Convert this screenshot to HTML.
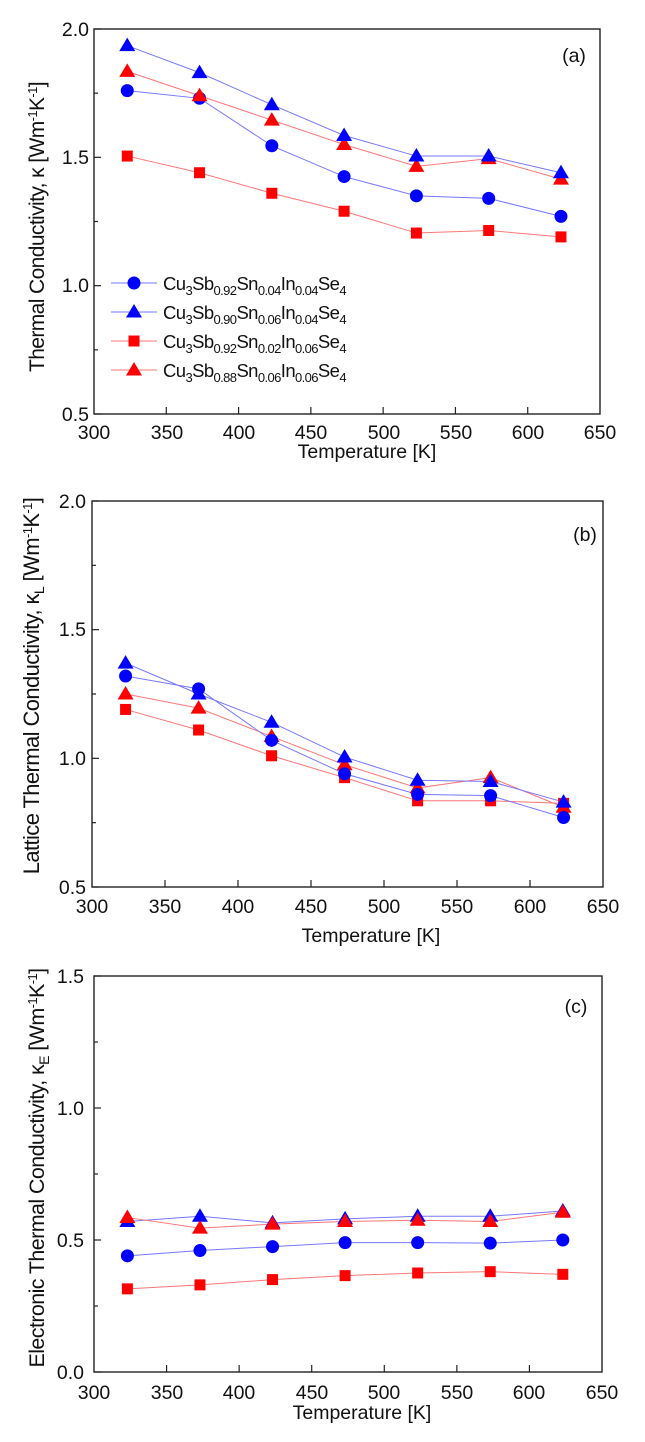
<!DOCTYPE html>
<html><head><meta charset="utf-8"><style>
html,body{margin:0;padding:0;background:#fff}
svg{display:block}
text{font-family:"Liberation Sans",Arial,sans-serif;fill:#111}
</style></head><body>
<svg id="s" width="645" height="1442" viewBox="0 0 645 1442" xmlns="http://www.w3.org/2000/svg">
<g id="g"></g>
<!-- Panel a text -->
<g font-size="19.5">
<text x="89" y="421" text-anchor="end">0.5</text>
<text x="89" y="292" text-anchor="end">1.0</text>
<text x="89" y="164" text-anchor="end">1.5</text>
<text x="89" y="36" text-anchor="end">2.0</text>
<text x="94" y="439" text-anchor="middle">300</text><text x="167" y="439" text-anchor="middle">350</text><text x="239" y="439" text-anchor="middle">400</text><text x="311" y="439" text-anchor="middle">450</text><text x="384" y="439" text-anchor="middle">500</text><text x="456" y="439" text-anchor="middle">550</text><text x="528" y="439" text-anchor="middle">600</text><text x="600" y="439" text-anchor="middle">650</text>
<text x="367" y="458" text-anchor="middle">Temperature [K]</text>
<text x="574" y="62" text-anchor="middle">(a)</text>
</g>
<text transform="translate(44,227) rotate(-90)" text-anchor="middle" font-size="21" letter-spacing="-0.6">Thermal Conductivity, κ [Wm<tspan dy="-7" font-size="13">-1</tspan><tspan dy="7">K</tspan><tspan dy="-7" font-size="13">-1</tspan><tspan dy="7">]</tspan></text>
<g font-size="18.5" letter-spacing="-0.6">
<text x="163" y="290">Cu<tspan dy="5" font-size="13">3</tspan><tspan dy="-5">Sb</tspan><tspan dy="5" font-size="13">0.92</tspan><tspan dy="-5">Sn</tspan><tspan dy="5" font-size="13">0.04</tspan><tspan dy="-5">In</tspan><tspan dy="5" font-size="13">0.04</tspan><tspan dy="-5">Se</tspan><tspan dy="5" font-size="13">4</tspan></text>
<text x="163" y="319">Cu<tspan dy="5" font-size="13">3</tspan><tspan dy="-5">Sb</tspan><tspan dy="5" font-size="13">0.90</tspan><tspan dy="-5">Sn</tspan><tspan dy="5" font-size="13">0.06</tspan><tspan dy="-5">In</tspan><tspan dy="5" font-size="13">0.04</tspan><tspan dy="-5">Se</tspan><tspan dy="5" font-size="13">4</tspan></text>
<text x="163" y="348">Cu<tspan dy="5" font-size="13">3</tspan><tspan dy="-5">Sb</tspan><tspan dy="5" font-size="13">0.92</tspan><tspan dy="-5">Sn</tspan><tspan dy="5" font-size="13">0.02</tspan><tspan dy="-5">In</tspan><tspan dy="5" font-size="13">0.06</tspan><tspan dy="-5">Se</tspan><tspan dy="5" font-size="13">4</tspan></text>
<text x="163" y="377">Cu<tspan dy="5" font-size="13">3</tspan><tspan dy="-5">Sb</tspan><tspan dy="5" font-size="13">0.88</tspan><tspan dy="-5">Sn</tspan><tspan dy="5" font-size="13">0.06</tspan><tspan dy="-5">In</tspan><tspan dy="5" font-size="13">0.06</tspan><tspan dy="-5">Se</tspan><tspan dy="5" font-size="13">4</tspan></text>
</g>
<!-- Panel b text -->
<g font-size="19.5">
<text x="86" y="894" text-anchor="end">0.5</text>
<text x="86" y="765" text-anchor="end">1.0</text>
<text x="86" y="636" text-anchor="end">1.5</text>
<text x="86" y="508" text-anchor="end">2.0</text>
<text x="92" y="913" text-anchor="middle">300</text><text x="165" y="913" text-anchor="middle">350</text><text x="238" y="913" text-anchor="middle">400</text><text x="311" y="913" text-anchor="middle">450</text><text x="384" y="913" text-anchor="middle">500</text><text x="457" y="913" text-anchor="middle">550</text><text x="530" y="913" text-anchor="middle">600</text><text x="603" y="913" text-anchor="middle">650</text>
<text x="371" y="942" text-anchor="middle">Temperature [K]</text>
<text x="585" y="541" text-anchor="middle">(b)</text>
</g>
<text transform="translate(39,686) rotate(-90)" text-anchor="middle" font-size="22" letter-spacing="-0.6">Lattice Thermal Conductivity, κ<tspan dy="5" font-size="14">L</tspan><tspan dy="-5"> [Wm</tspan><tspan dy="-7" font-size="13">-1</tspan><tspan dy="7">K</tspan><tspan dy="-7" font-size="13">-1</tspan><tspan dy="7">]</tspan></text>
<!-- Panel c text -->
<g font-size="19.5">
<text x="84" y="1379" text-anchor="end">0.0</text>
<text x="84" y="1247" text-anchor="end">0.5</text>
<text x="84" y="1115" text-anchor="end">1.0</text>
<text x="84" y="983" text-anchor="end">1.5</text>
<text x="94" y="1399" text-anchor="middle">300</text><text x="167" y="1399" text-anchor="middle">350</text><text x="239" y="1399" text-anchor="middle">400</text><text x="312" y="1399" text-anchor="middle">450</text><text x="384" y="1399" text-anchor="middle">500</text><text x="457" y="1399" text-anchor="middle">550</text><text x="529" y="1399" text-anchor="middle">600</text><text x="602" y="1399" text-anchor="middle">650</text>
<text x="362" y="1419" text-anchor="middle">Temperature [K]</text>
<text x="576" y="1013" text-anchor="middle">(c)</text>
</g>
<text transform="translate(44,1168) rotate(-90)" text-anchor="middle" font-size="21.5" letter-spacing="-0.6">Electronic Thermal Conductivity, κ<tspan dy="5" font-size="14">E</tspan><tspan dy="-5"> [Wm</tspan><tspan dy="-7" font-size="13">-1</tspan><tspan dy="7">K</tspan><tspan dy="-7" font-size="13">-1</tspan><tspan dy="7">]</tspan></text>
</svg>
<script>
var NS="http://www.w3.org/2000/svg",g=document.getElementById('g');
function el(t,a){var e=document.createElementNS(NS,t);for(var k in a)e.setAttribute(k,a[k]);g.appendChild(e);return e;}
var B="#0000ff",R="#ff0000",BL="#7777ff",RL="#ff7777";
function mark(type,x,y,c){
 if(type=='c')el('circle',{cx:x,cy:y,r:6.5,fill:c});
 else if(type=='s')el('rect',{x:x-5.5,y:y-5.5,width:11,height:11,fill:c});
 else el('polygon',{points:(x)+','+(y-8)+' '+(x-8)+','+(y+5.5)+' '+(x+8)+','+(y+5.5),fill:c});
}
function panel(L,Rt,T,Bt,y0,y1,yt,series){
 var sx=function(v){return L+(v-300)/350*(Rt-L)},sy=function(v){return Bt-(v-y0)/(y1-y0)*(Bt-T)};
 el('rect',{x:L,y:T,width:Rt-L,height:Bt-T,fill:'none',stroke:'#222','stroke-width':1.4});
 for(var t=350;t<650;t+=50)el('line',{x1:sx(t),x2:sx(t),y1:Bt,y2:Bt-7,stroke:'#222','stroke-width':1.2});
 for(var v=y0;v<=y1+1e-9;v+=yt/2){var big=Math.abs(((v-y0)/yt)-Math.round((v-y0)/yt))<1e-6;
  el('line',{x1:L,x2:L+(big?7:4),y1:sy(v),y2:sy(v),stroke:'#222','stroke-width':1.2});}
 var xs=[323,373,423,473,523,573,623];
 series.forEach(function(s){
  var pts=s.d.map(function(v,i){return sx(xs[i])+','+sy(v)}).join(' ');
  el('polyline',{points:pts,fill:'none',stroke:s.lc,'stroke-width':1});
 });
 series.forEach(function(s){s.d.forEach(function(v,i){mark(s.t,sx(xs[i]),sy(v),s.c)})});
}
panel(94,600,29,414,0.5,2.0,0.5,[
 {t:'s',c:R,lc:RL,d:[1.505,1.44,1.36,1.29,1.205,1.215,1.19]},
 {t:'c',c:B,lc:BL,d:[1.76,1.73,1.545,1.425,1.35,1.34,1.27]},
 {t:'t',c:R,lc:RL,d:[1.835,1.74,1.645,1.55,1.465,1.495,1.415]},
 {t:'t',c:B,lc:BL,d:[1.935,1.83,1.705,1.585,1.505,1.505,1.44]}
]);
panel(92,603,501,887,0.5,2.0,0.5,[
 {t:'s',c:R,lc:RL,d:[1.19,1.11,1.01,0.925,0.835,0.835,0.825]},
 {t:'t',c:R,lc:RL,d:[1.25,1.195,1.085,0.975,0.885,0.925,0.81]},
 {t:'t',c:B,lc:BL,d:[1.37,1.25,1.14,1.005,0.915,0.91,0.83]},
 {t:'c',c:B,lc:BL,d:[1.32,1.27,1.07,0.94,0.86,0.855,0.77]}
]);
panel(94,602,976,1372,0,1.5,0.5,[
 {t:'s',c:R,lc:RL,d:[0.315,0.33,0.35,0.365,0.375,0.38,0.37]},
 {t:'c',c:B,lc:BL,d:[0.44,0.46,0.475,0.49,0.49,0.488,0.50]},
 {t:'t',c:B,lc:BL,d:[0.57,0.59,0.565,0.58,0.59,0.59,0.61]},
 {t:'t',c:R,lc:RL,d:[0.585,0.545,0.56,0.57,0.575,0.57,0.605]}
]);
[[283,'c',B,BL],[312,'t',B,BL],[341,'s',R,RL],[370,'t',R,RL]].forEach(function(r){
 el('line',{x1:111,x2:157,y1:r[0],y2:r[0],stroke:r[3],'stroke-width':1});mark(r[1],134,r[0],r[2]);});
</script>
</body></html>
